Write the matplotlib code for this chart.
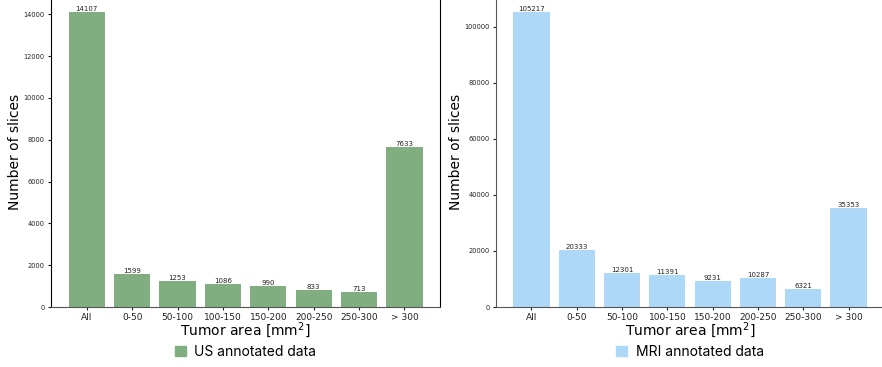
import matplotlib
matplotlib.use("Agg")
import matplotlib.pyplot as plt
from matplotlib.patches import Patch

categories = ["All", "0-50", "50-100", "100-150", "150-200", "200-250", "250-300", "> 300"]
us_counts = [14107, 1599, 1253, 1086, 990, 833, 713, 7633]
mri_counts = [105217, 20333, 12301, 11391, 9231, 10287, 6321, 35353]
us_color = "#80ae80"
mri_color = "#add8f7"

fig = plt.figure(figsize=(8.82, 3.67), dpi=100)
ax1 = fig.add_axes([51 / 882, 60 / 367, 389.3 / 882, 309.7 / 367])
ax2 = fig.add_axes([495.7 / 882, 60 / 367, 388.6 / 882, 309.7 / 367])

def draw(ax, values, color, label, left_black):
    bars = ax.bar(categories, values, width=0.8, color=color)
    for b, v in zip(bars, values):
        ax.text(b.get_x() + b.get_width() / 2, v, str(v), ha="center", va="bottom",
                fontsize=5, color="#222222")
    ax.set_ylabel("Number of slices", fontsize=10, labelpad=1)
    ax.set_xlabel("Tumor area [mm$^2$]", fontsize=10, labelpad=-1)
    ax.tick_params(axis="x", labelsize=6.5, length=2.5, pad=1.5, colors="#222222")
    ax.tick_params(axis="y", labelsize=4.8, length=2.5, pad=2, colors="#222222")
    ax.spines["top"].set_visible(False)
    ax.spines["bottom"].set_color("#555555")
    if left_black:
        ax.spines["left"].set_color("black")
        ax.spines["right"].set_color("black")
    else:
        ax.spines["left"].set_color("#555555")
        ax.spines["right"].set_visible(False)
    ax.legend(handles=[Patch(color=color, label=label)], loc="upper center",
              bbox_to_anchor=(0.5, -0.082), frameon=False, handlelength=0.8,
              handleheight=0.8, handletextpad=0.6,
              prop={"family": "Inter", "size": 10})

draw(ax1, us_counts, us_color, "US annotated data", True)
draw(ax2, mri_counts, mri_color, "MRI annotated data", False)

fig.savefig("out.png", dpi=100)
